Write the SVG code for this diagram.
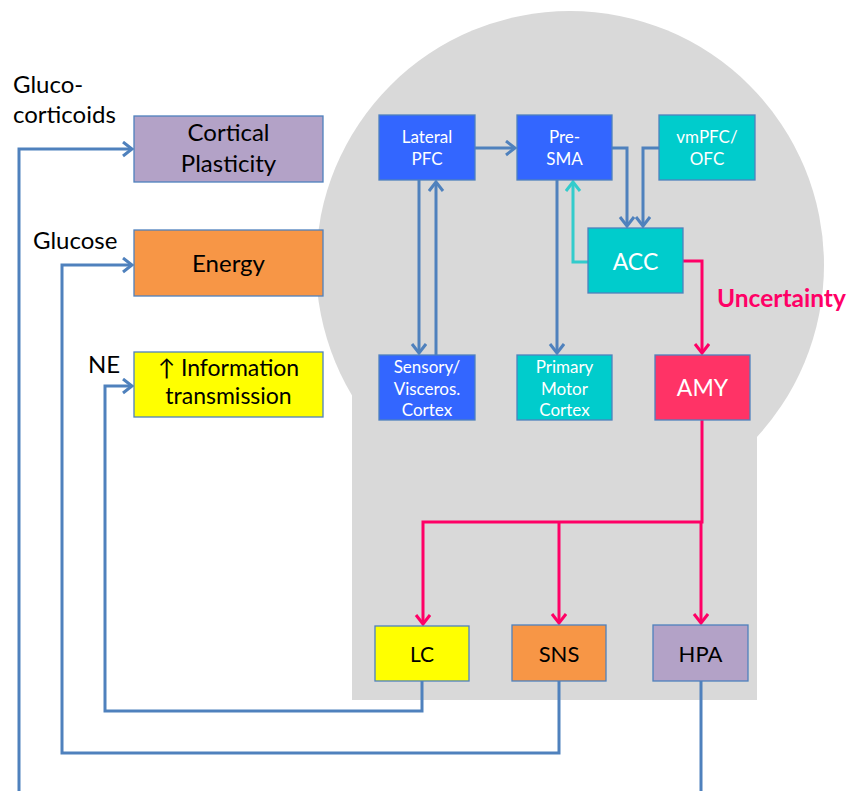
<svg xmlns="http://www.w3.org/2000/svg" width="850" height="791" viewBox="0 0 850 791">
<style>
.box{stroke:#4f81bd;stroke-width:1.3}
.t{font-family:Lato,"Open Sans","DejaVu Sans",sans-serif;text-anchor:middle}
.lbl{font-family:Lato,"Open Sans","DejaVu Sans",sans-serif;fill:#000}
.w{fill:#fff}
.k{fill:#000}
.cb{fill:none;stroke:#4f81bd;stroke-width:3}
.cp{fill:none;stroke:#ff0066;stroke-width:3}
.ct{fill:none;stroke:#33cccc;stroke-width:3}
</style>
<defs>
<marker id="ab" markerUnits="userSpaceOnUse" markerWidth="16" markerHeight="18" refX="12" refY="8" orient="auto"><path d="M3,1 L12,8 L3,15" fill="none" stroke="#4f81bd" stroke-width="3"/></marker>
<marker id="ap" markerUnits="userSpaceOnUse" markerWidth="16" markerHeight="18" refX="12" refY="8" orient="auto"><path d="M3,1 L12,8 L3,15" fill="none" stroke="#ff0066" stroke-width="3"/></marker>
<marker id="at" markerUnits="userSpaceOnUse" markerWidth="16" markerHeight="18" refX="12" refY="8" orient="auto"><path d="M3,1 L12,8 L3,15" fill="none" stroke="#33cccc" stroke-width="3"/></marker>
</defs>
<rect width="850" height="791" fill="#fff"/>
<g id="brain">
<circle cx="570" cy="265" r="254" fill="#d9d9d9"/>
<rect x="352" y="380" width="405" height="320" fill="#d9d9d9"/>
</g>
<g id="connectors">
<path class="cb" d="M475,148 H515" marker-end="url(#ab)"/>
<path class="cb" d="M419,180 V353" marker-end="url(#ab)"/>
<path class="cb" d="M436,355 V182" marker-end="url(#ab)"/>
<path class="cb" d="M557,180 V353" marker-end="url(#ab)"/>
<path class="cb" d="M612,148 H627 V226" marker-end="url(#ab)"/>
<path class="cb" d="M659,148 H643 V226" marker-end="url(#ab)"/>
<path class="ct" d="M588,262 H573 V182" marker-end="url(#at)"/>
<path class="cp" d="M683,261 H702 V353" marker-end="url(#ap)"/>
<path class="cp" d="M702,420 V522 H423 V624" marker-end="url(#ap)"/>
<path class="cp" d="M559,522 V623" marker-end="url(#ap)"/>
<path class="cp" d="M701,522 V623" marker-end="url(#ap)"/>
<path class="cb" d="M422,681 V711 H105 V386 H132" marker-end="url(#ab)"/>
<path class="cb" d="M559,681 V753 H62 V265 H132" marker-end="url(#ab)"/>
<path class="cb" d="M701,681 V795"/>
<path class="cb" d="M19,795 V149 H132" marker-end="url(#ab)"/>
</g>
<g id="labels">
<text class="lbl" x="13" y="93" font-size="24">Gluco-</text>
<text class="lbl" x="13" y="123" font-size="24">corticoids</text>
<text class="lbl" x="33" y="249" font-size="24">Glucose</text>
<text class="lbl" x="88" y="373" font-size="24">NE</text>
<text x="717" y="307" font-family="Lato,'Open Sans','DejaVu Sans',sans-serif" font-size="24.5" font-weight="bold" fill="#ff0066">Uncertainty</text>
</g>
<g id="cortical-plasticity">
<rect class="box" x="134" y="116" width="189" height="66" fill="#b3a2c7"/>
<text class="t k" x="228.5" y="141" font-size="24">Cortical</text>
<text class="t k" x="228.5" y="172" font-size="24">Plasticity</text>
</g>
<g id="energy">
<rect class="box" x="134" y="230" width="189" height="66" fill="#f79646"/>
<text class="t k" x="228.5" y="272" font-size="24">Energy</text>
</g>
<g id="information">
<rect class="box" x="134" y="352" width="189" height="65" fill="#ffff00"/>
<text class="t k" x="228.5" y="376" font-size="23">↑ Information</text>
<text class="t k" x="228.5" y="404" font-size="23">transmission</text>
</g>
<g id="lateral-pfc">
<rect class="box" x="379" y="115" width="96" height="65" fill="#3366ff"/>
<text class="t w" x="427" y="143" font-size="17">Lateral</text>
<text class="t w" x="427" y="165" font-size="17">PFC</text>
</g>
<g id="pre-sma">
<rect class="box" x="517" y="115" width="95" height="65" fill="#3366ff"/>
<text class="t w" x="564.5" y="143" font-size="17">Pre-</text>
<text class="t w" x="564.5" y="165" font-size="17">SMA</text>
</g>
<g id="vmpfc">
<rect class="box" x="659" y="115" width="96" height="65" fill="#00cccc"/>
<text class="t w" x="707" y="143" font-size="17">vmPFC/</text>
<text class="t w" x="707" y="165" font-size="17">OFC</text>
</g>
<g id="acc">
<rect class="box" x="588" y="228" width="95" height="65" fill="#00cccc"/>
<text class="t w" x="635.5" y="270" font-size="23">ACC</text>
</g>
<g id="sensory">
<rect class="box" x="379" y="355" width="96" height="65" fill="#3366ff"/>
<text class="t w" x="427" y="373" font-size="17">Sensory/</text>
<text class="t w" x="427" y="395" font-size="17">Visceros.</text>
<text class="t w" x="427" y="416" font-size="17">Cortex</text>
</g>
<g id="primary-motor">
<rect class="box" x="517" y="355" width="95" height="65" fill="#00cccc"/>
<text class="t w" x="564.5" y="373" font-size="17">Primary</text>
<text class="t w" x="564.5" y="395" font-size="17">Motor</text>
<text class="t w" x="564.5" y="416" font-size="17">Cortex</text>
</g>
<g id="amy">
<rect class="box" x="655" y="355" width="95" height="65" fill="#ff3366"/>
<text class="t w" x="702.5" y="396" font-size="23">AMY</text>
</g>
<g id="lc">
<rect class="box" x="375" y="626" width="94" height="55" fill="#ffff00"/>
<text class="t k" x="422" y="662" font-size="21">LC</text>
</g>
<g id="sns">
<rect class="box" x="512" y="625" width="94" height="56" fill="#f79646"/>
<text class="t k" x="559" y="662" font-size="22">SNS</text>
</g>
<g id="hpa">
<rect class="box" x="653" y="625" width="95" height="56" fill="#b3a2c7"/>
<text class="t k" x="700.5" y="662" font-size="22">HPA</text>
</g>
</svg>
